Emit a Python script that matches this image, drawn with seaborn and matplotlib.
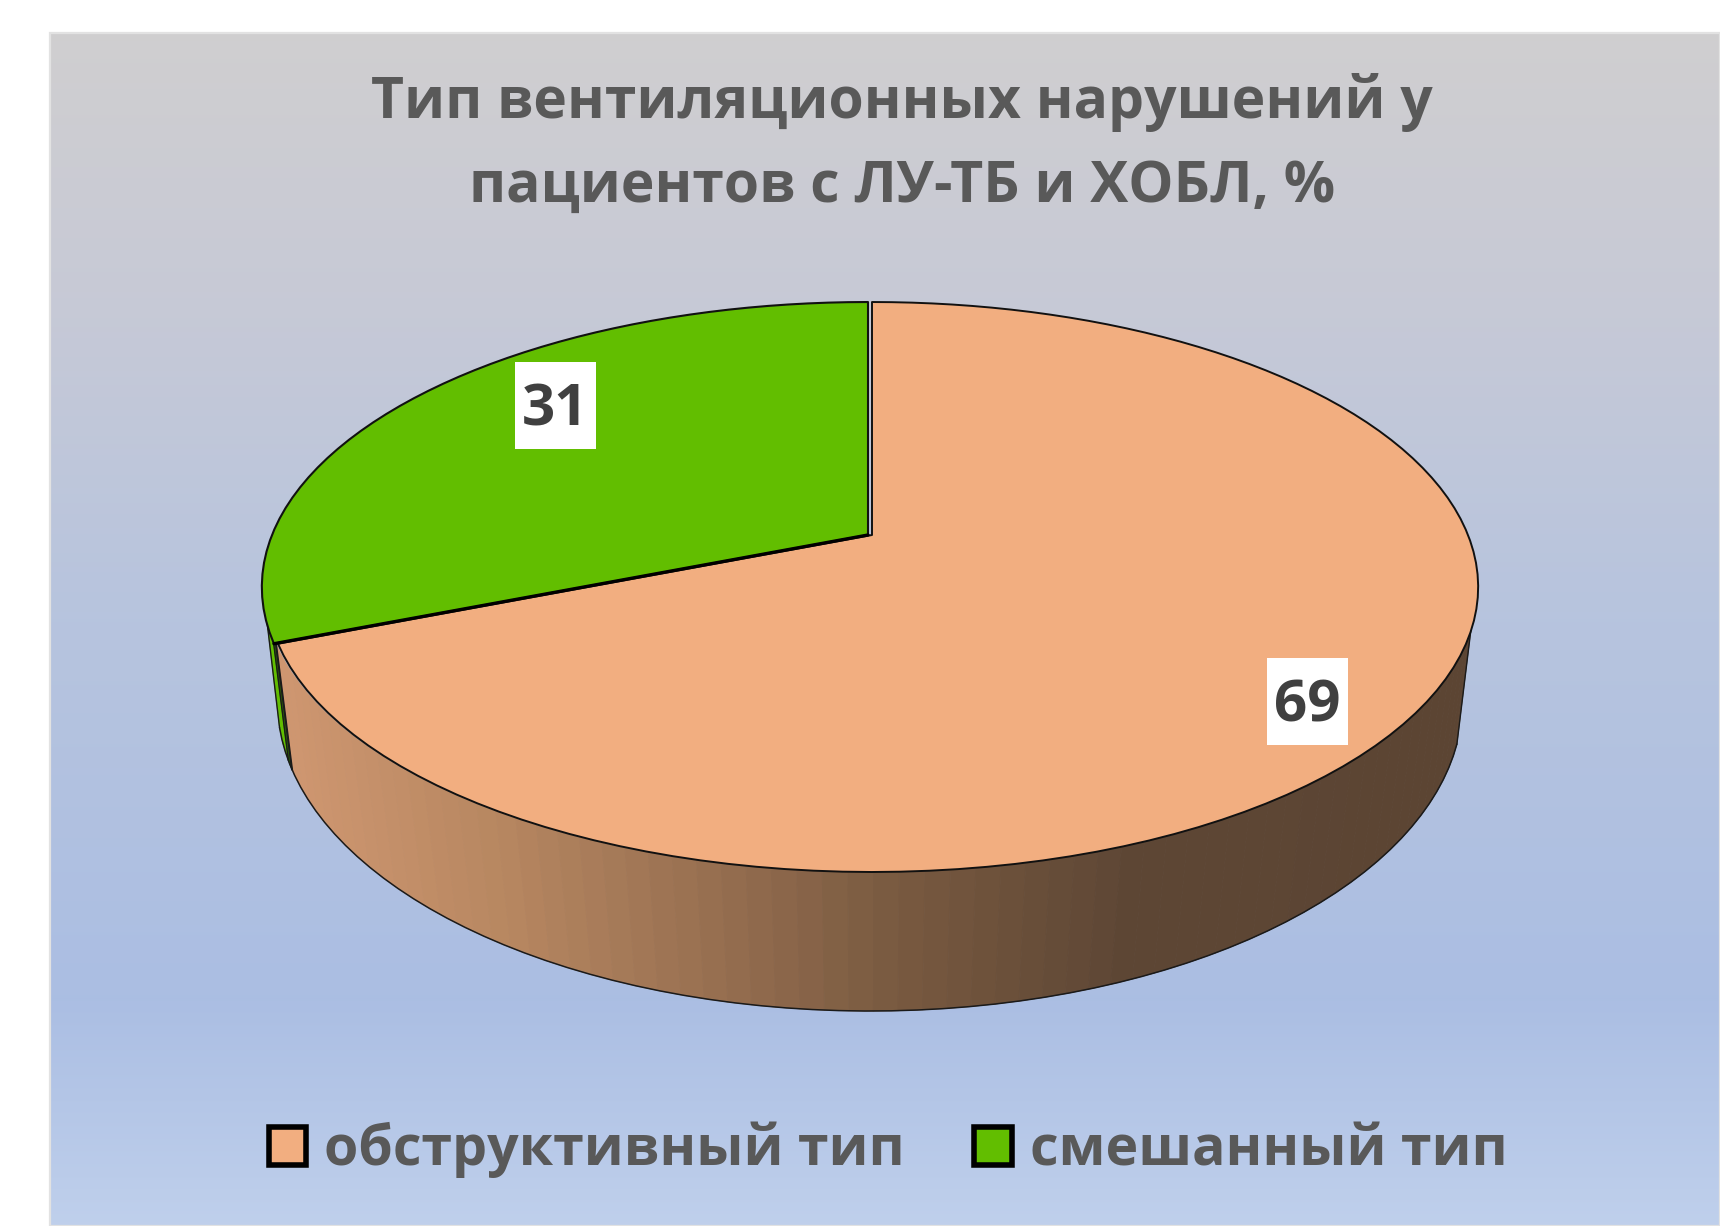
import numpy as np
import matplotlib
matplotlib.use("Agg")
import matplotlib.pyplot as plt
from matplotlib.patches import Patch, Rectangle
import seaborn as sns

# данные
categories = ["обструктивный тип", "смешанный тип"]
values = [69, 31]
title_lines = ["Тип вентиляционных нарушений у", "пациентов с ЛУ-ТБ и ХОБЛ, %"]

sns.set_theme(style="white")
plt.rcParams["font.family"] = ["Open Sans", "DejaVu Sans"]

PEACH, GREEN = sns.color_palette(["#F2AE80", "#62BE00"])
TEXT = "#595959"
LABEL = "#404040"

# геометрия псевдо-3D круга (в пикселях картинки)
TOP = dict(cx=870, cy=535, a=596, b=275.5, k=0.1825)
BOTTOM = dict(cx=870, cy=651.5, a=585, b=302, k=0.16)
EDGE_RIGHT = -17
EDGE_LEFT = -166


def project(theta, cx, cy, a, b, k):
    """Точка окружности -> экран, с перспективой"""
    t = np.radians(theta)
    d = 1 + k * np.sin(t)
    return cx + a * np.cos(t) / d, cy - b * np.sin(t) / d


def side_color(x):
    stops = [290, 500, 700, 900, 1130, 1480]
    r = np.interp(x, stops, [0.81, 0.72, 0.60, 0.47, 0.365, 0.36])
    g = np.interp(x, stops, [0.59, 0.53, 0.44, 0.35, 0.275, 0.27])
    b = np.interp(x, stops, [0.44, 0.38, 0.32, 0.25, 0.205, 0.20])
    return (r, g, b)


def draw_wall(ax, t0, t1, color=None, n=2):
    ts = np.linspace(t0, t1, n + 1)
    for a0, a1 in zip(ts[:-1], ts[1:]):
        x0, y0 = project(a0, **TOP)
        x1, y1 = project(a1, **TOP)
        x2, y2 = project(a1, **BOTTOM)
        x3, y3 = project(a0, **BOTTOM)
        c = color if color is not None else side_color((x0 + x1 + x2 + x3) / 4)
        ax.fill([x0, x1, x2, x3], [y0, y1, y2, y3], color=c, lw=0.6, zorder=2)


fig = plt.figure(figsize=(17.2, 12.26), dpi=100)
ax = fig.add_axes([0, 0, 1, 1])

# фон с градиентом
ys = np.linspace(33, 1226, 600)
stops_y = [33, 300, 600, 1000, 1226]
grad = np.stack([
    np.interp(ys, stops_y, [0.815, 0.78, 0.72, 0.67, 0.75]),
    np.interp(ys, stops_y, [0.81, 0.79, 0.77, 0.745, 0.815]),
    np.interp(ys, stops_y, [0.815, 0.84, 0.87, 0.89, 0.925]),
], axis=1)[:, None, :]
ax.imshow(grad, extent=(50, 1720, 1226, 33), aspect="auto", zorder=0)
ax.add_patch(Rectangle((50, 33), 1670, 1193, fill=False, ec="#E2E2E2", lw=1.6, zorder=1))

# углы секторов из значений
fractions = np.array(values) / sum(values)
split = 90 - 360 * fractions[0]

# боковая стенка
draw_wall(ax, split, EDGE_RIGHT, n=70)
draw_wall(ax, EDGE_LEFT, split - 1.6, color=GREEN)
draw_wall(ax, split - 1.6, split, color="#2E6A00")

# контуры стенки
ts = np.linspace(EDGE_LEFT, EDGE_RIGHT, 70)
ax.plot(*project(ts, **BOTTOM), color="#1A1A1A", lw=1.1, zorder=3)
for t in [EDGE_LEFT, split - 1.6, split, EDGE_RIGHT]:
    xt, yt = project(t, **TOP)
    xb, yb = project(t, **BOTTOM)
    ax.plot([xt, xb], [yt, yb], color="#1A1A1A", lw=1.5 if t == split else 1.0, zorder=3)

# верхняя грань
ts = np.linspace(90, split, 110)
px, py = project(ts, **TOP)
ax.fill(np.r_[TOP["cx"], px] + 2, np.r_[TOP["cy"], py], fc=PEACH, ec="#111111", lw=1.4,
        joinstyle="round", zorder=4)
ts = np.linspace(split, split - 360 * fractions[1], 50)
gx, gy = project(ts, **TOP)
ax.fill(np.r_[TOP["cx"], gx] - 2, np.r_[TOP["cy"], gy], fc=GREEN, ec="#111111", lw=1.5,
        joinstyle="round", zorder=5)
# граница секторов толще
ax.plot([TOP["cx"] - 2, gx[0] - 2], [TOP["cy"], gy[0]], color="black", lw=2.4, zorder=5)

# подписи значений
ax.text(1307, 707, str(values[0]), ha="center", va="center", fontsize=42, fontweight="bold",
        color=LABEL, zorder=7)
ax.add_patch(Rectangle((1267, 658), 81, 87, fc="white", ec="none", zorder=6))
ax.text(555, 411, str(values[1]), ha="center", va="center", fontsize=42, fontweight="bold",
        color=LABEL, zorder=7)
ax.add_patch(Rectangle((515, 362), 81, 87, fc="white", ec="none", zorder=6))

# заголовок
ax.text(902, 103, title_lines[0], ha="center", va="center", fontsize=41, fontweight="bold",
        color=TEXT, zorder=7)
ax.text(902, 187, title_lines[1], ha="center", va="center", fontsize=41, fontweight="bold",
        color=TEXT, zorder=7)

# легенда
handles = [Patch(fc=PEACH, ec="black", lw=4.0, label=categories[0]),
           Patch(fc=GREEN, ec="black", lw=4.0, label=categories[1])]
ax.legend(handles=handles, loc="center", bbox_to_anchor=(888, 1150),
          bbox_transform=ax.transData, ncol=2, frameon=False,
          labelcolor=TEXT, prop={"weight": "bold", "size": 40, "family": ["Open Sans", "DejaVu Sans"]},
          handlelength=0.68, handleheight=0.68, handletextpad=0.32, columnspacing=1.25)

ax.set_xlim(0, 1720)
ax.set_ylim(1226, 0)
ax.axis("off")
fig.patch.set_facecolor("white")

fig.savefig("out.png", dpi=100)
plt.close(fig)
